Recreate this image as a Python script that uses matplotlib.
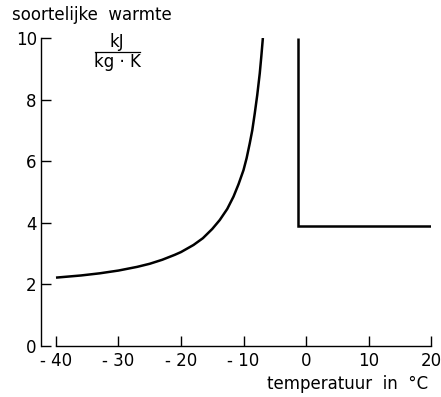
import matplotlib
matplotlib.use("Agg")
import matplotlib.pyplot as plt
from matplotlib.lines import Line2D

temp_ijs = [-40, -36, -33, -30, -27, -25, -23, -21, -20, -18, -16.5, -15,
            -13.8, -12.6, -11.6, -10.8, -10.0, -9.5, -9.0, -8.6, -8.2, -7.8,
            -7.4, -7.15, -6.9]
c_ijs = [2.22, 2.29, 2.36, 2.45, 2.57, 2.67, 2.80, 2.96, 3.05, 3.28, 3.50, 3.80,
         4.09, 4.45, 4.85, 5.25, 5.71, 6.10, 6.58, 7.00, 7.55, 8.15,
         8.85, 9.40, 10.0]

# smeltpunt en water
t_smelt = -1.3
temp_water = [t_smelt, t_smelt, 20]
c_water = [10.0, 3.9, 3.9]

x_ticks = [-40, -30, -20, -10, 0, 10, 20]
x_labels = ["- 40", "- 30", "- 20", "- 10", "0", "10", "20"]
y_ticks = [0, 2, 4, 6, 8, 10]

fs = 12

fig = plt.figure(figsize=(4.41, 3.97), dpi=100)
ax = fig.add_axes([41/441, 51/397, 390/441, 308/397])

ax.plot(temp_ijs, c_ijs, color="black", lw=1.8, solid_capstyle="butt")
ax.plot(temp_water, c_water, color="black", lw=1.8, solid_joinstyle="miter",
        solid_capstyle="butt")

ax.set_xlim(-42.4, 20)
ax.set_ylim(0, 10)
ax.spines["top"].set_visible(False)
ax.spines["right"].set_visible(False)
ax.spines["bottom"].set_bounds(-40, 20)
ax.spines["left"].set_linewidth(1.0)
ax.spines["bottom"].set_linewidth(1.0)

ax.set_xticks(x_ticks)
ax.set_xticklabels(x_labels)
ax.set_yticks(y_ticks)
ax.tick_params(direction="in", length=7, width=1.0, labelsize=fs, pad=4)
ax.tick_params(axis="y", pad=3)

fig.text(12/441, 1 - 15/397, "soortelijke  warmte", fontsize=fs, va="center", ha="left")
fig.text(428/441, 1 - 384/397, "temperatuur  in  °C", fontsize=fs, va="center", ha="right")

# eenheid als breuk
cx = 117/441
fig.text(cx, 1 - 42/397, "kJ", fontsize=fs, ha="center", va="center")
fig.text(cx, 1 - 62/397, "kg · K", fontsize=fs, ha="center", va="center")
fig.add_artist(Line2D([95/441, 140/441], [1 - 52/397, 1 - 52/397], color="black", lw=0.9))

fig.savefig("out.png", dpi=100)
